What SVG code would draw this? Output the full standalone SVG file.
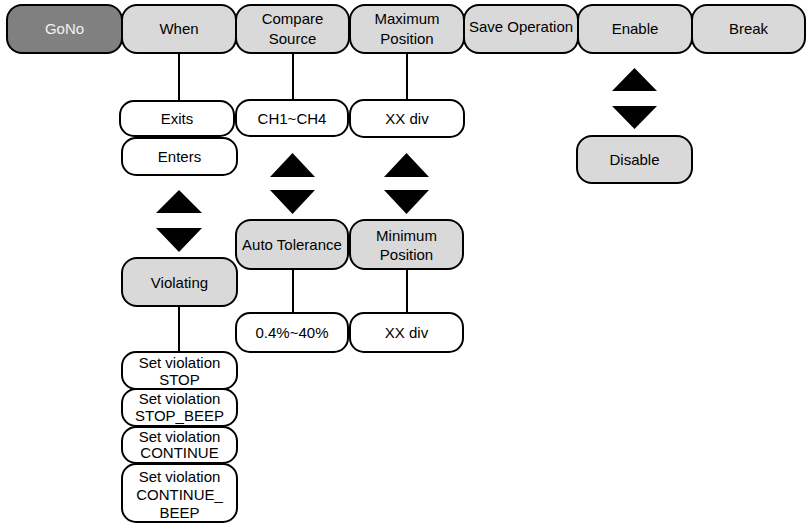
<svg xmlns="http://www.w3.org/2000/svg" width="810" height="525" viewBox="0 0 810 525">
<style>
.b{fill:#d9d9d9;stroke:#000;stroke-width:2}
.w{fill:#fff;stroke:#000;stroke-width:2}
.d{fill:#808080;stroke:#000;stroke-width:2}
text{font-family:"Liberation Sans",Arial,sans-serif;font-size:15px;fill:#000;text-anchor:middle}
.lt{fill:#f2f2f2}
.c line{stroke:#000;stroke-width:2}
.t{fill:#000}
</style>
<rect width="810" height="525" fill="#fff"/>
<g class="c" id="connectors">
<line x1="179" y1="53" x2="179" y2="101"/>
<line x1="293" y1="53" x2="293" y2="100"/>
<line x1="407" y1="53" x2="407" y2="100"/>
<line x1="179" y1="306" x2="179" y2="352"/>
<line x1="293" y1="269" x2="293" y2="313"/>
<line x1="407" y1="269" x2="407" y2="313"/>
<polygon class="t" points="179,190 202,213 156,213"/>
<polygon class="t" points="156,228 202,228 179,252"/>
<polygon class="t" points="292.5,153 315,177 270,177"/>
<polygon class="t" points="270,190 315,190 292.5,214"/>
<polygon class="t" points="406.5,153 429,177 384,177"/>
<polygon class="t" points="384,190 429,190 406.5,214"/>
<polygon class="t" points="634.5,68 657,91 612,91"/>
<polygon class="t" points="612,106 657,106 634.5,129"/>
</g>
<g id="gono"><rect class="d" x="7" y="5" width="115" height="48" rx="15"/><text class="lt" x="64.5" y="34">GoNo</text></g>
<g id="when"><rect class="b" x="122" y="5" width="114" height="48" rx="15"/><text x="179" y="34">When</text></g>
<g id="compare"><rect class="b" x="236" y="5" width="113" height="48" rx="15"/><text x="292.5" y="24">Compare</text><text x="292.5" y="44">Source</text></g>
<g id="maxpos"><rect class="b" x="350" y="5" width="114" height="48" rx="15"/><text x="407" y="24">Maximum</text><text x="407" y="44">Position</text></g>
<g id="save"><rect class="b" x="464" y="5" width="114" height="48" rx="15"/><text x="521" y="32">Save Operation</text></g>
<g id="enable"><rect class="b" x="578" y="5" width="114" height="48" rx="15"/><text x="635" y="34">Enable</text></g>
<g id="break"><rect class="b" x="692" y="5" width="113" height="48" rx="15"/><text x="748.5" y="34">Break</text></g>
<g id="exits"><rect class="w" x="120" y="101" width="114" height="35" rx="14"/><text x="177" y="124">Exits</text></g>
<g id="enters"><rect class="w" x="122" y="138" width="115" height="37" rx="14"/><text x="179.5" y="162">Enters</text></g>
<g id="ch"><rect class="w" x="236" y="100" width="112" height="36" rx="14"/><text x="292" y="124">CH1~CH4</text></g>
<g id="xxdiv1"><rect class="w" x="350" y="100" width="114" height="37" rx="14"/><text x="407" y="124">XX div</text></g>
<g id="disable"><rect class="b" x="577" y="136" width="115" height="47" rx="15"/><text x="634.5" y="165">Disable</text></g>
<g id="violating"><rect class="b" x="122" y="258" width="115" height="48" rx="15"/><text x="179.5" y="288">Violating</text></g>
<g id="autotol"><rect class="b" x="236" y="220" width="112" height="49" rx="15"/><text x="292" y="250">Auto Tolerance</text></g>
<g id="minpos"><rect class="b" x="350" y="220" width="113" height="49" rx="15"/><text x="406.5" y="241">Minimum</text><text x="406.5" y="260">Position</text></g>
<g id="pct"><rect class="w" x="236" y="313" width="112" height="39" rx="14"/><text x="292" y="338">0.4%~40%</text></g>
<g id="xxdiv2"><rect class="w" x="350" y="313" width="113" height="39" rx="14"/><text x="406.5" y="338">XX div</text></g>
<g id="stop"><rect class="w" x="122" y="352" width="115" height="37" rx="14"/><text x="179.5" y="368">Set violation</text><text x="179.5" y="385">STOP</text></g>
<g id="stopbeep"><rect class="w" x="122" y="389" width="115" height="37" rx="14"/><text x="179.5" y="404">Set violation</text><text x="179.5" y="421">STOP_BEEP</text></g>
<g id="continue"><rect class="w" x="122" y="427" width="115" height="36" rx="14"/><text x="179.5" y="442">Set violation</text><text x="179.5" y="458">CONTINUE</text></g>
<g id="continuebeep"><rect class="w" x="122" y="464" width="115" height="58" rx="14"/><text x="179.5" y="482">Set violation</text><text x="179.5" y="500">CONTINUE_</text><text x="179.5" y="518">BEEP</text></g>
</svg>
